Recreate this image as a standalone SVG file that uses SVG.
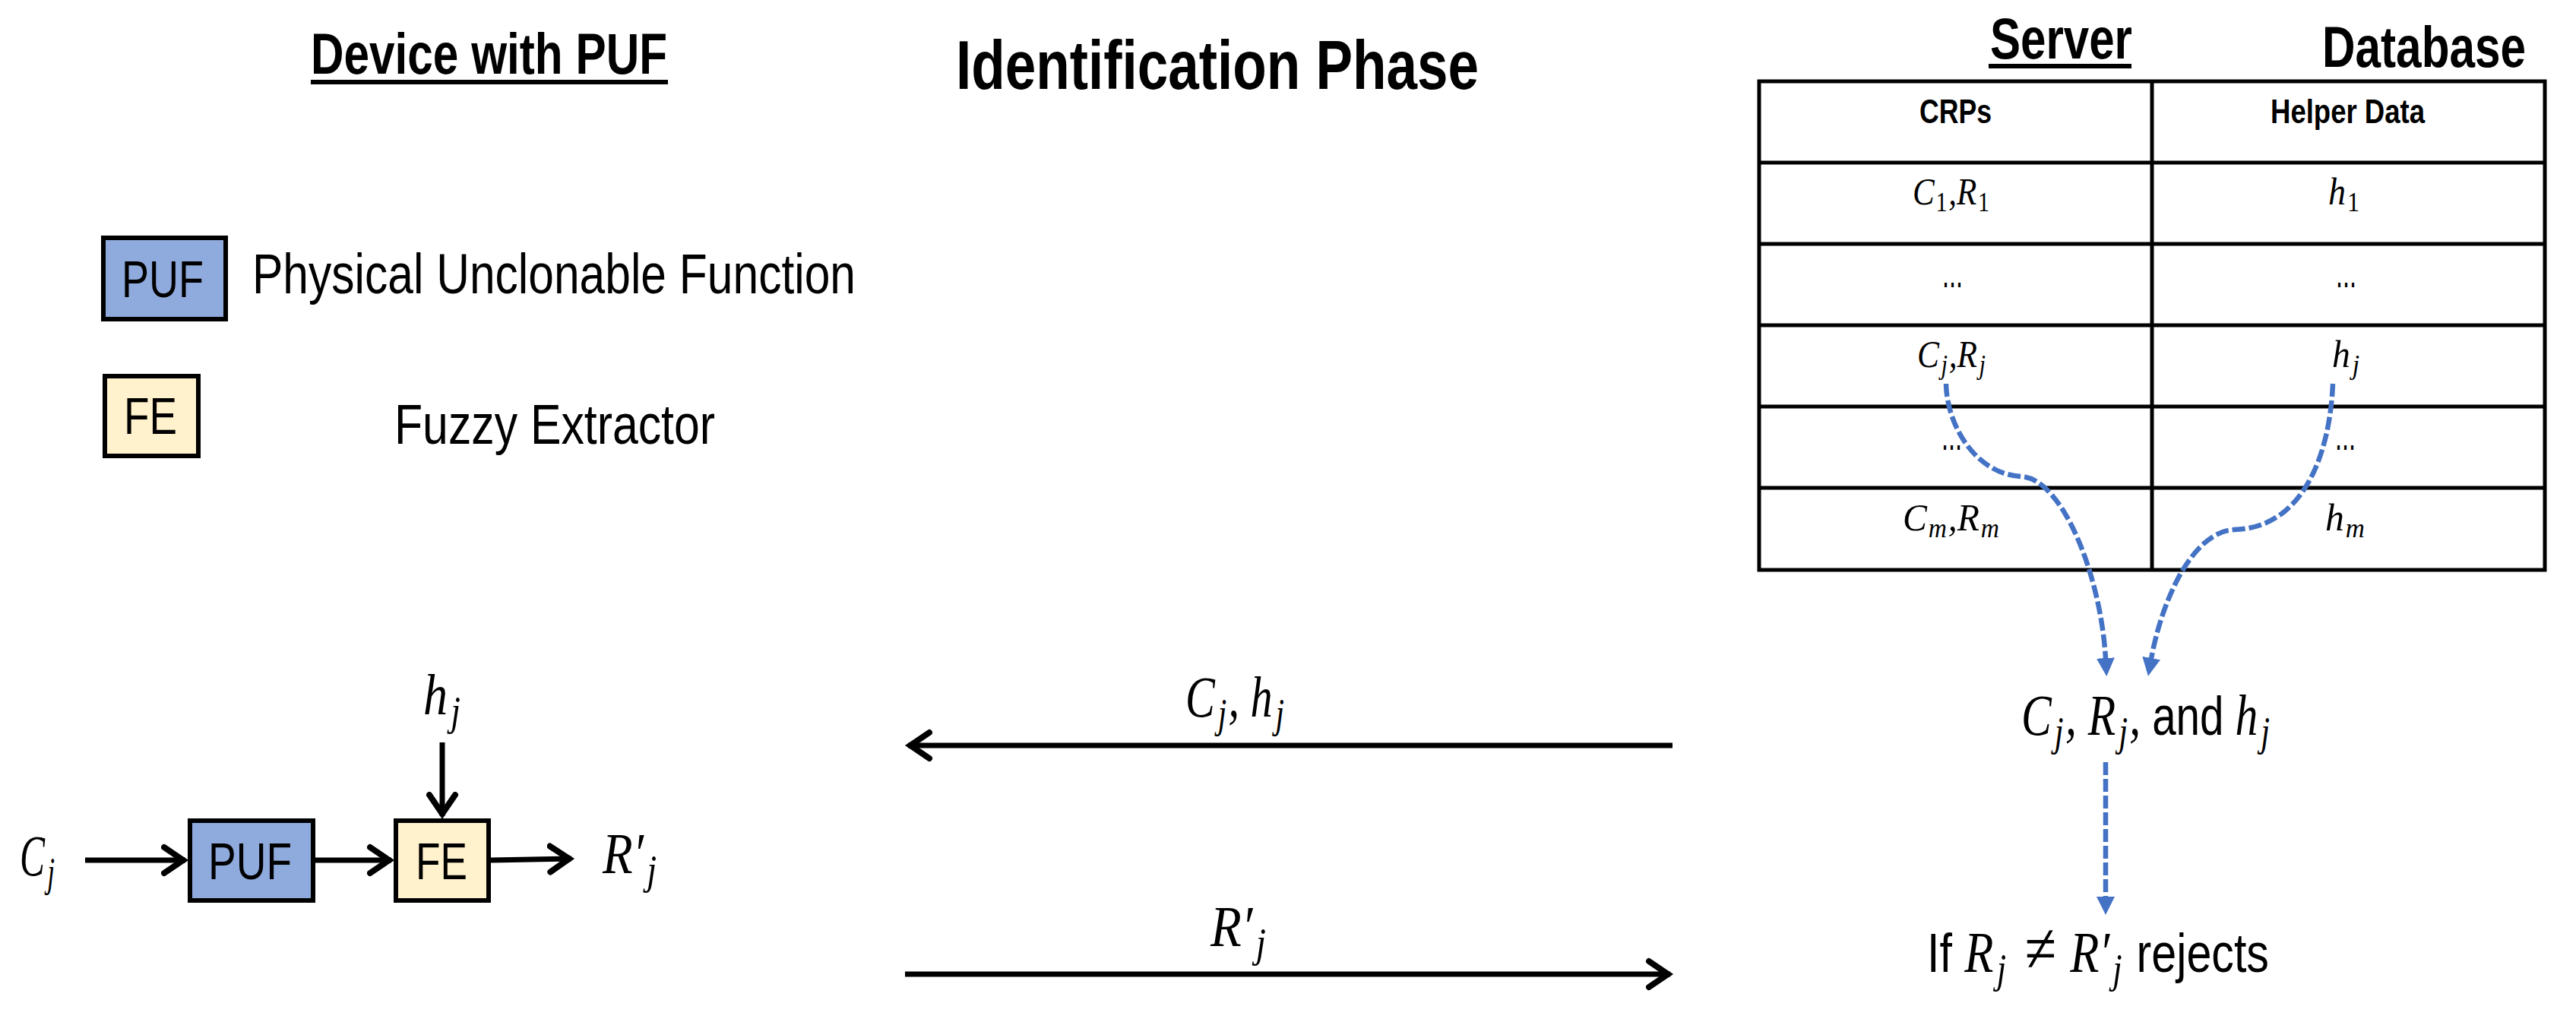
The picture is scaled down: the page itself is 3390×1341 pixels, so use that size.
<svg xmlns="http://www.w3.org/2000/svg" width="3390" height="1341" viewBox="0 0 3390 1341">
<style>
text{fill:#000}
.a{font-family:"Liberation Sans",Arial,sans-serif}
.b{font-family:"Liberation Sans",Arial,sans-serif;font-weight:700}
.m{font-family:"Liberation Serif","Times New Roman",serif;font-style:italic}
.u{font-style:normal}
.puf{fill:#8FAADC;stroke:#000;stroke-width:6}
.fe{fill:#FFF2CC;stroke:#000;stroke-width:6}
.grid{fill:none;stroke:#000;stroke-width:5}
.k{fill:none;stroke:#000;stroke-width:7}
.d{fill:none;stroke:#4472C4;stroke-width:6.5;stroke-dasharray:17 5}
</style>
<defs>
<marker id="open" markerUnits="userSpaceOnUse" markerWidth="40" markerHeight="44" refX="32" refY="22" orient="auto">
<path d="M4,5 L29,22 L4,39" fill="none" stroke="#000" stroke-width="8" stroke-linecap="round"/>
</marker>
<marker id="blue" markerUnits="userSpaceOnUse" markerWidth="26" markerHeight="26" refX="1" refY="12" orient="auto">
<path d="M0,0 L24,12 L0,24 Z" fill="#4472C4"/>
</marker>
</defs>

<g id="titles">
<text class="b" x="409" y="97" font-size="76" textLength="469" lengthAdjust="spacingAndGlyphs">Device with PUF</text>
<rect x="409" y="105" width="470" height="6"/>
<text class="b" x="1258" y="117" font-size="90" textLength="688" lengthAdjust="spacingAndGlyphs">Identification Phase</text>
<text class="b" x="2619" y="77" font-size="76" textLength="187" lengthAdjust="spacingAndGlyphs">Server</text>
<rect x="2617" y="84" width="188" height="6"/>
<text class="b" x="3056" y="88" font-size="76" textLength="268" lengthAdjust="spacingAndGlyphs">Database</text>
</g>

<g id="legend-puf">
<rect class="puf" x="136" y="313" width="161" height="107"/>
<text class="a" x="160" y="391" font-size="68" textLength="108" lengthAdjust="spacingAndGlyphs">PUF</text>
<text class="a" x="332" y="386" font-size="75" textLength="794" lengthAdjust="spacingAndGlyphs">Physical Unclonable Function</text>
</g>
<g id="legend-fe">
<rect class="fe" x="138" y="495" width="123" height="105"/>
<text class="a" x="163" y="571" font-size="68" textLength="70" lengthAdjust="spacingAndGlyphs">FE</text>
<text class="a" x="519" y="584" font-size="75" textLength="422" lengthAdjust="spacingAndGlyphs">Fuzzy Extractor</text>
</g>

<g id="database-table">
<rect class="grid" x="2315" y="107" width="1034" height="643"/>
<path class="grid" d="M2832,107V750M2315,214H3349M2315,321H3349M2315,428H3349M2315,535H3349M2315,642H3349"/>
<text class="b" x="2526" y="162" font-size="45" textLength="95" lengthAdjust="spacingAndGlyphs">CRPs</text>
<text class="b" x="2988" y="162" font-size="45" textLength="203" lengthAdjust="spacingAndGlyphs">Helper Data</text>
<text class="m" x="2517" y="269" font-size="50" textLength="101" lengthAdjust="spacingAndGlyphs">C<tspan class="u" font-size="35" dx="2" dy="9">1</tspan><tspan dx="2" dy="-9">,</tspan>R<tspan class="u" font-size="35" dx="2" dy="9">1</tspan></text>
<text class="m" x="3064" y="269" font-size="50" textLength="41" lengthAdjust="spacingAndGlyphs">h<tspan class="u" font-size="35" dx="2" dy="9">1</tspan></text>
<text class="a" x="2556" y="378" font-size="56" textLength="27" lengthAdjust="spacingAndGlyphs">...</text>
<text class="a" x="3074" y="378" font-size="56" textLength="27" lengthAdjust="spacingAndGlyphs">...</text>
<text class="m" x="2523" y="483" font-size="50" textLength="90" lengthAdjust="spacingAndGlyphs">C<tspan font-size="35" dx="3" dy="9">j</tspan><tspan dx="2" dy="-9">,</tspan>R<tspan font-size="35" dx="3" dy="9">j</tspan></text>
<text class="m" x="3069" y="483" font-size="50" textLength="36" lengthAdjust="spacingAndGlyphs">h<tspan font-size="35" dx="3" dy="9">j</tspan></text>
<text class="a" x="2555" y="592" font-size="56" textLength="27" lengthAdjust="spacingAndGlyphs">...</text>
<text class="a" x="3073" y="592" font-size="56" textLength="27" lengthAdjust="spacingAndGlyphs">...</text>
<text class="m" x="2504" y="698" font-size="50" textLength="127" lengthAdjust="spacingAndGlyphs">C<tspan font-size="35" dx="2" dy="9">m</tspan><tspan dx="2" dy="-9">,</tspan>R<tspan font-size="35" dx="2" dy="9">m</tspan></text>
<text class="m" x="3060" y="698" font-size="50" textLength="52" lengthAdjust="spacingAndGlyphs">h<tspan font-size="35" dx="2" dy="9">m</tspan></text>
</g>

<g id="device-puf">
<rect class="puf" x="250" y="1080" width="162" height="105"/>
<text class="a" x="274" y="1157" font-size="68" textLength="110" lengthAdjust="spacingAndGlyphs">PUF</text>
</g>
<g id="device-fe">
<rect class="fe" x="521" y="1080" width="122" height="105"/>
<text class="a" x="547" y="1157" font-size="68" textLength="68" lengthAdjust="spacingAndGlyphs">FE</text>
</g>

<g id="device-labels">
<text class="m" x="26" y="1152" font-size="76" textLength="46" lengthAdjust="spacingAndGlyphs">C<tspan font-size="54" dx="5" dy="14">j</tspan></text>
<text class="m" x="557" y="940" font-size="76" textLength="49" lengthAdjust="spacingAndGlyphs">h<tspan font-size="54" dx="5" dy="14">j</tspan></text>
<text class="m" x="793" y="1149" font-size="76" textLength="71" lengthAdjust="spacingAndGlyphs">R′<tspan font-size="54" dx="5" dy="14">j</tspan></text>
</g>

<g id="message-labels">
<text class="m" x="1560" y="943" font-size="76" textLength="130" lengthAdjust="spacingAndGlyphs">C<tspan font-size="54" dx="5" dy="14">j</tspan><tspan dx="3" dy="-14">, </tspan>h<tspan font-size="54" dx="5" dy="14">j</tspan></text>
<text class="m" x="1593" y="1245" font-size="76" textLength="73" lengthAdjust="spacingAndGlyphs">R′<tspan font-size="54" dx="5" dy="14">j</tspan></text>
</g>

<g id="server-labels">
<text class="m" x="2660" y="967" font-size="76" textLength="327" lengthAdjust="spacingAndGlyphs">C<tspan font-size="54" dx="5" dy="14">j</tspan><tspan dx="3" dy="-14">, </tspan>R<tspan font-size="54" dx="5" dy="14">j</tspan><tspan dx="3" dy="-14">, </tspan><tspan class="a u" font-size="72">and</tspan> h<tspan font-size="54" dx="5" dy="14">j</tspan></text>
<text class="a" x="2536" y="1279" font-size="72" textLength="450" lengthAdjust="spacingAndGlyphs">If <tspan class="m" font-size="76">R<tspan font-size="54" dx="5" dy="14">j</tspan></tspan><tspan class="m" font-size="92" dx="6" dy="-14"> ≠ </tspan><tspan class="m" font-size="76">R′<tspan font-size="54" dx="5" dy="14">j</tspan></tspan><tspan dx="3" dy="-14"> rejects</tspan></text>
</g>

<g id="connectors">
<path class="k" d="M112,1132H244" marker-end="url(#open)"/>
<path class="k" d="M415,1132H515" marker-end="url(#open)"/>
<path class="k" d="M646,1132L752,1130" stroke-width="8" marker-end="url(#open)"/>
<path class="k" d="M582,977V1074" marker-end="url(#open)"/>
<path class="k" d="M2201,981H1195" marker-end="url(#open)"/>
<path class="k" d="M1191,1282H2198" marker-end="url(#open)"/>
<path class="d" d="M2561,505C2562,560 2600,624 2660,627C2715,630 2765,760 2771,867" marker-end="url(#blue)"/>
<path class="d" d="M3070,505C3066,600 3030,695 2940,697C2885,700 2845,790 2831,867" marker-end="url(#blue)"/>
<path class="d" d="M2771,1003V1181" marker-end="url(#blue)"/>
</g>
</svg>
